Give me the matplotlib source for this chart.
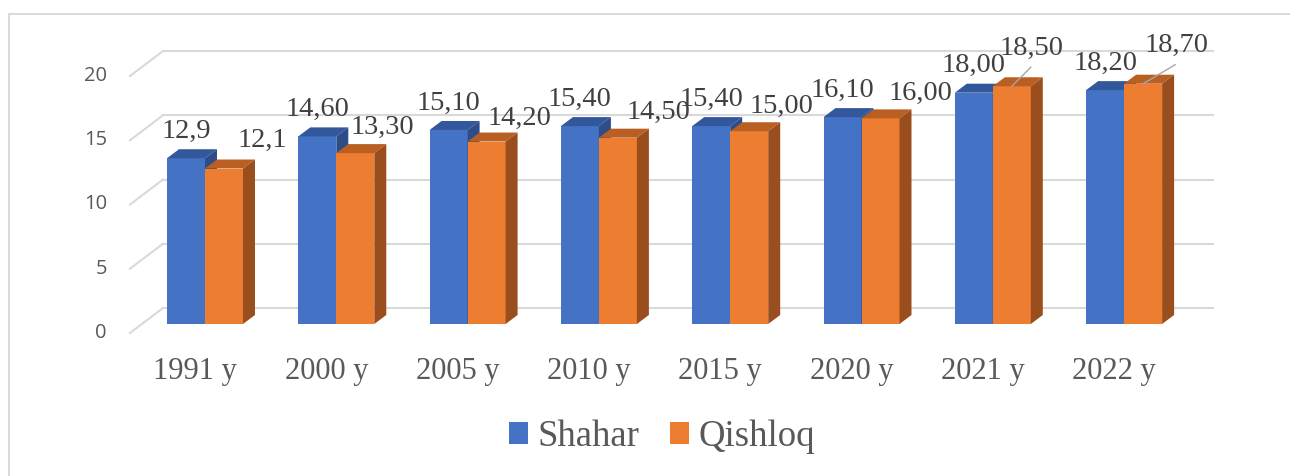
import numpy as np
import matplotlib
matplotlib.use('Agg')
from matplotlib import pyplot as plt
from matplotlib.patches import Polygon, Patch, Rectangle

# data
years = ['1991 y', '2000 y', '2005 y', '2010 y', '2015 y', '2020 y', '2021 y', '2022 y']
shahar = [12.9, 14.6, 15.1, 15.4, 15.4, 16.1, 18.0, 18.2]
qishloq = [12.1, 13.3, 14.2, 14.5, 15.0, 16.0, 18.5, 18.7]
label_decimals = [1, 2, 2, 2, 2, 2, 2, 2]
yticks = [0, 5, 10, 15, 20]

# layout (pixels of the 1290x476 picture)
PX = 131.3      # px per category
PY = 12.85      # px per value unit
X0 = 205        # px of first category (blue/orange joint)
Y0 = 324        # px of value 0 at the bar front

def X(px):
    return (px - X0) / PX

def Y(py):
    return (Y0 - py) / PY

bw = 38 / PX            # bar width
dep_x = 12 / PX         # bar depth
dep_y = 9 / PY
wall_y = 16 / PY        # back wall lift
front_y = -9 / PY       # front edge drop

blue = '#4472C4'
blue_top = '#32579A'
blue_side = '#2C4D88'
orange = '#ED7D31'
orange_top = '#BA5F22'
orange_side = '#9A4E1D'
grid_c = '#D9D9D9'
text_c = '#595959'
label_c = '#404040'

# orange label nudges (px right, px above bar top)
orange_nudge = [(38, 28), (27, 26), (33, 23), (41, 25), (32, 25), (40, 25), (20, 38), (33, 38)]
leader = [False, False, False, False, False, False, True, True]

serif = 'Liberation Serif'
sans = 'Open Sans'

fig = plt.figure(figsize=(12.9, 4.76), dpi=100)
ax = fig.add_axes([0, 0, 1, 1])
ax.set_xlim(X(0), X(1290))
ax.set_ylim(Y(476), Y(0))
ax.axis('off')

# outer border
fig.patches.append(Rectangle((9 / 1290, -0.1), 1.2, 1.1 - 14 / 476, transform=fig.transFigure,
                             fill=False, ec=grid_c, lw=1.4))

# back wall gridlines + side wall diagonals
for v in yticks:
    ax.plot([X(163), X(1213)], [v + wall_y, v + wall_y], color=grid_c, lw=1.5, zorder=1)
    ax.plot([X(130), X(163)], [v + front_y, v + wall_y], color=grid_c, lw=1.5, zorder=1)
    ax.text(X(107), v + front_y, str(v), ha='right', va='center', fontsize=14.5,
            family=sans, color=text_c)

x = np.arange(len(years))

def box(x0, v, front, top, side, z):
    ax.bar(x0, v, width=bw, align='edge', color=front, lw=0, zorder=z)
    ax.add_patch(Polygon([(x0, v), (x0 + bw, v), (x0 + bw + dep_x, v + dep_y), (x0 + dep_x, v + dep_y)],
                         closed=True, fc=top, lw=0, zorder=z))
    ax.add_patch(Polygon([(x0 + bw, 0), (x0 + bw + dep_x, dep_y), (x0 + bw + dep_x, v + dep_y), (x0 + bw, v)],
                         closed=True, fc=side, lw=0, zorder=z))

for i in range(len(years)):
    box(x[i] - bw, shahar[i], blue, blue_top, blue_side, 3)
    box(x[i], qishloq[i], orange, orange_top, orange_side, 4)

    fmt = '{:.%df}' % label_decimals[i]
    # shahar label
    ax.text(x[i] - bw / 2, shahar[i] + 27 / PY, fmt.format(shahar[i]).replace('.', ','),
            ha='center', va='center', fontsize=20.5, family=serif, color=label_c, zorder=6)
    # qishloq label
    nx, ny = orange_nudge[i]
    cx = x[i] + bw / 2
    ax.text(cx + nx / PX, qishloq[i] + ny / PY, fmt.format(qishloq[i]).replace('.', ','),
            ha='center', va='center', fontsize=20.5, family=serif, color=label_c, zorder=6)
    if leader[i]:
        ax.plot([cx + nx / PX - 1 / PX, cx], [qishloq[i] + 19 / PY, qishloq[i]],
                color='#A6A6A6', lw=1, zorder=6)

    # category label
    ax.text(x[i] - 10 / PX, Y(372), years[i], ha='center', va='center', fontsize=22,
            family=serif, color=text_c)

# legend
handles = [Patch(facecolor=blue), Patch(facecolor=orange)]
ax.legend(handles, ['Shahar', 'Qishloq'], loc='center', bbox_to_anchor=(662 / 1290, 1 - 437 / 476),
          bbox_transform=fig.transFigure, ncol=2, frameon=False,
          prop={'family': serif, 'size': 26.5}, labelcolor=text_c,
          handlelength=0.52, handleheight=0.52, handletextpad=0.25, columnspacing=0.84)

plt.savefig('out.png', dpi=100)
